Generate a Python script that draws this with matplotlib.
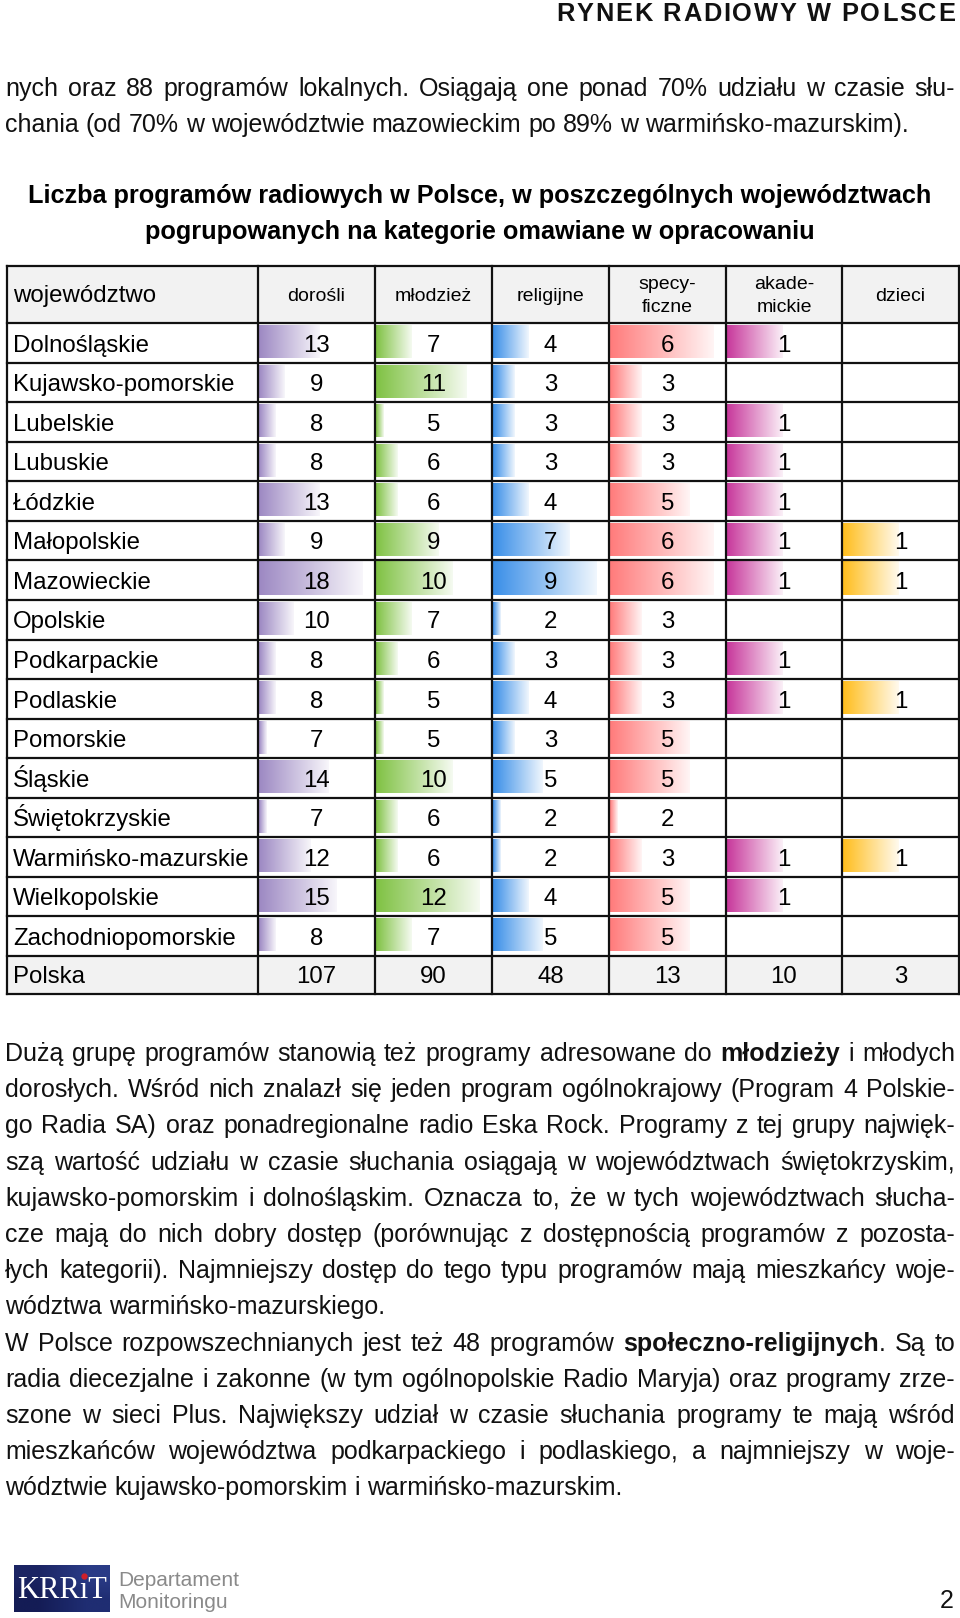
import re
import numpy as np
import matplotlib
matplotlib.use('Agg')
import matplotlib.pyplot as plt
from matplotlib.colors import to_rgb

plt.rcParams['font.family'] = ['Liberation Sans', 'DejaVu Sans']

W, H = 960, 1618

# table data
regions = ['Dolnośląskie', 'Kujawsko-pomorskie', 'Lubelskie', 'Lubuskie', 'Łódzkie',
           'Małopolskie', 'Mazowieckie', 'Opolskie', 'Podkarpackie', 'Podlaskie',
           'Pomorskie', 'Śląskie', 'Świętokrzyskie', 'Warmińsko-mazurskie',
           'Wielkopolskie', 'Zachodniopomorskie']
categories = ['dorośli', 'młodzież', 'religijne', 'specy-\nficzne', 'akade-\nmickie', 'dzieci']
dorosli = [13, 9, 8, 8, 13, 9, 18, 10, 8, 8, 7, 14, 7, 12, 15, 8]
mlodziez = [7, 11, 5, 6, 6, 9, 10, 7, 6, 5, 5, 10, 6, 6, 12, 7]
religijne = [4, 3, 3, 3, 4, 7, 9, 2, 3, 4, 3, 5, 2, 2, 4, 5]
specyficzne = [6, 3, 3, 3, 5, 6, 6, 3, 3, 3, 5, 5, 2, 3, 5, 5]
akademickie = [1, None, 1, 1, 1, 1, 1, None, 1, 1, None, None, None, 1, 1, None]
dzieci = [None, None, None, None, None, 1, 1, None, None, 1, None, None, None, 1, None, None]
polska = [107, 90, 48, 13, 10, 3]
columns = [dorosli, mlodziez, religijne, specyficzne, akademickie, dzieci]
bar_colors = ['#9d89c3', '#80c244', '#3a8fe8', '#ff7c7c', '#c8399c', '#ffbe1e']

top_lines = ["nych oraz 88 programów lokalnych. Osiągają one ponad 70% udziału w czasie słu-",
             "chania (od 70% w województwie mazowieckim po 89% w warmińsko-mazurskim)."]
title_lines = ["Liczba programów radiowych w Polsce, w poszczególnych województwach",
               "pogrupowanych na kategorie omawiane w opracowaniu"]
body_lines = ["Dużą grupę programów stanowią też programy adresowane do **młodzieży** i młodych",
              "dorosłych. Wśród nich znalazł się jeden program ogólnokrajowy (Program 4 Polskie-",
              "go Radia SA) oraz ponadregionalne radio Eska Rock. Programy z tej grupy najwięk-",
              "szą wartość udziału w czasie słuchania osiągają w województwach świętokrzyskim,",
              "kujawsko-pomorskim i dolnośląskim. Oznacza to, że w tych województwach słucha-",
              "cze mają do nich dobry dostęp (porównując z dostępnością programów z pozosta-",
              "łych kategorii). Najmniejszy dostęp do tego typu programów mają mieszkańcy woje-",
              "wództwa warmińsko-mazurskiego.",
              "W Polsce rozpowszechnianych jest też 48 programów **społeczno-religijnych**. Są to",
              "radia diecezjalne i zakonne (w tym ogólnopolskie Radio Maryja) oraz programy zrze-",
              "szone w sieci Plus. Największy udział w czasie słuchania programy te mają wśród",
              "mieszkańców województwa podkarpackiego i podlaskiego, a najmniejszy w woje-",
              "wództwie kujawsko-pomorskim i warmińsko-mazurskim."]
body_last = [7, 12]

fig = plt.figure(figsize=(9.6, 16.18), dpi=100)
ax = fig.add_axes([0, 0, 1, 1])
ax.axis('off')
ax.set_xlim(0, W)
ax.set_ylim(H, 0)
r = fig.canvas.get_renderer()


def tw(s, **kw):
    t = ax.text(0, 0, s, **kw)
    w = t.get_window_extent(renderer=r).width
    t.remove()
    return w


def put_line(y, line, justify, size=18, x0=5, x1=955):
    words = line.split(' ')
    parts = [[(seg, i % 2 == 1) for i, seg in enumerate(re.split(r'\*\*', w)) if seg] for w in words]
    widths = [[tw(seg, fontsize=size, fontweight='bold' if b else 'normal') for seg, b in p] for p in parts]
    total = sum(sum(ws) for ws in widths)
    if justify and len(words) > 1:
        gap = (x1 - x0 - total) / (len(words) - 1)
    else:
        gap = tw('a a', fontsize=size) - tw('aa', fontsize=size)
    x = x0
    for p, ws in zip(parts, widths):
        for (seg, b), w in zip(p, ws):
            ax.text(x, y, seg, fontsize=size, fontweight='bold' if b else 'normal',
                    va='baseline', ha='left', color='#111111')
            x += w
        x += gap


# page header, letter spaced
head = 'RYNEK RADIOWY W POLSCE'
cw = [tw(c, fontsize=18.3, fontweight='bold') for c in head]
track = 1.8
x = 955 - sum(cw) - track * (len(head) - 1)
for c, w in zip(head, cw):
    ax.text(x, 21, c, fontsize=18.3, fontweight='bold', va='baseline', color='#111111')
    x += w + track

for i, line in enumerate(top_lines):
    put_line(96 + 35.6 * i, line, justify=(i == 0))

for i, line in enumerate(title_lines):
    ax.text(480, 203 + 36 * i, line, fontsize=18.2, fontweight='bold', ha='center', va='baseline')

# table layout
col_x = [7, 258, 375, 492, 609, 726, 842, 959]
head_top, head_bot = 266, 323
row_h = (956 - head_bot) / len(regions)
row_y = [head_bot + row_h * i for i in range(len(regions))] + [956, 994]

ax.add_patch(plt.Rectangle((col_x[0], head_top), col_x[-1] - col_x[0], head_bot - head_top,
                           facecolor='#f2f2f2', edgecolor='none', zorder=0))
ax.add_patch(plt.Rectangle((col_x[0], row_y[-2]), col_x[-1] - col_x[0], row_y[-1] - row_y[-2],
                           facecolor='#f2f2f2', edgecolor='none', zorder=0))

ax.text(13, 296, 'województwo', fontsize=17.3, va='center', ha='left')
for j, cat in enumerate(categories):
    ax.text((col_x[j + 1] + col_x[j + 2]) / 2, 296, cat, fontsize=14, va='center',
            ha='center', linespacing=1.45)

BMIN, BMAX = 8, 104
for j, vals in enumerate(columns):
    present = [v for v in vals if v is not None]
    lo, hi = min(present), max(present)
    cx = (col_x[j + 1] + col_x[j + 2]) / 2
    rows = [i for i, v in enumerate(vals) if v is not None]
    lens = [(BMIN + BMAX) / 2 if hi == lo else BMIN + (vals[i] - lo) / (hi - lo) * (BMAX - BMIN)
            for i in rows]
    bars = ax.barh([row_y[i] + 18.5 for i in rows], lens, left=col_x[j + 1] + 1, height=33,
                   color='none', edgecolor='none')
    c = np.array(to_rgb(bar_colors[j]))
    t = np.linspace(0, 0.92, 64)[:, None]
    grad = (c * (1 - t) + t)[None, :, :]
    for b in bars:
        x0, y0, w, h = b.get_x(), b.get_y(), b.get_width(), b.get_height()
        ax.imshow(grad, extent=[x0, x0 + w, y0 + h, y0], aspect='auto',
                  interpolation='bilinear', zorder=1)
    for i in rows:
        ax.text(cx, row_y[i] + 28.5, str(vals[i]), fontsize=17.3, ha='center',
                va='baseline', zorder=3)

for i, name in enumerate(regions + ['Polska']):
    ax.text(13, row_y[i] + (28.5 if i < len(regions) else 27), name, fontsize=17.3,
            ha='left', va='baseline', zorder=3)
for j, v in enumerate(polska):
    ax.text((col_x[j + 1] + col_x[j + 2]) / 2, row_y[-2] + 27, str(v), fontsize=17.3,
            ha='center', va='baseline', zorder=3)

for y in [head_top, head_bot] + row_y[1:]:
    ax.plot([col_x[0], col_x[-1]], [y, y], color='#111111', lw=1.6, zorder=4,
            solid_capstyle='projecting')
for xx in col_x:
    ax.plot([xx, xx], [head_top, row_y[-1]], color='#111111', lw=1.6, zorder=4,
            solid_capstyle='projecting')

for i, line in enumerate(body_lines):
    put_line(1061 + 36.2 * i, line, justify=(i not in body_last))

# footer logo
logo = np.array([[to_rgb('#1b2463'), to_rgb('#2a3b86')], [to_rgb('#141c55'), to_rgb('#1f2d72')]])
ax.imshow(logo, extent=[14, 110, 1612, 1565], aspect='auto', interpolation='bilinear', zorder=1)
ax.text(62, 1590, 'KRRıT', fontsize=22, family='Liberation Serif', color='white',
        ha='center', va='center', zorder=2)
kx = 62 - tw('KRRıT', fontsize=22, family='Liberation Serif') / 2 + \
    tw('KRR', fontsize=22, family='Liberation Serif') + tw('ı', fontsize=22, family='Liberation Serif') / 2
ax.plot([kx], [1576], 'o', color='#d0202a', ms=3.5, zorder=3)
ax.text(118, 1586, 'Departament', fontsize=15, color='#8a8a8a', va='baseline')
ax.text(118, 1608, 'Monitoringu', fontsize=15, color='#8a8a8a', va='baseline')
ax.text(954, 1608, '2', fontsize=18, color='#111111', ha='right', va='baseline')

ax.set_xlim(0, W)
ax.set_ylim(H, 0)
fig.savefig('out.png', dpi=100)
